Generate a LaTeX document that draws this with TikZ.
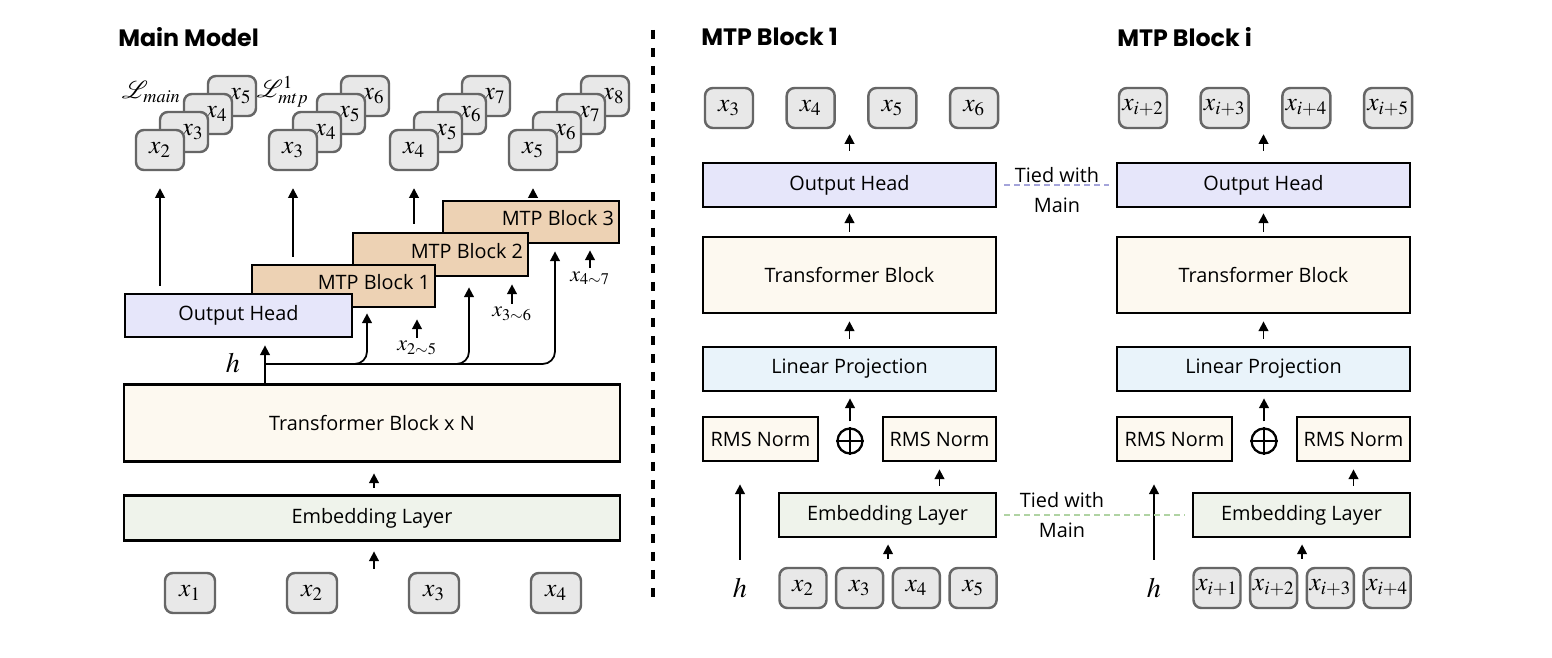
\documentclass[tikz,border=0pt]{standalone}
\usepackage{mathptmx}
\usepackage[no-math]{fontspec}
\setmainfont{Open Sans}
\newfontfamily\titlefont{Poppins}
\usetikzlibrary{arrows.meta,calc}

\definecolor{tokfill}{HTML}{E8E8E8}
\definecolor{tokline}{HTML}{666666}
\definecolor{headfill}{HTML}{E6E6FA}
\definecolor{trffill}{HTML}{FDF9F0}
\definecolor{embfill}{HTML}{EFF3EB}
\definecolor{lpfill}{HTML}{E9F3FA}
\definecolor{mtpfill}{HTML}{EDD2B4}
\definecolor{tiehead}{HTML}{A4A4DA}
\definecolor{tieemb}{HTML}{B0D3A3}

% stack of four predicted tokens: name, centre x of front token, index of front token
\newcommand\outstack[3]{%
  \foreach \k in {3,2,1}{%
    \pgfmathtruncatemacro\idx{#3+\k}%
    \node[tok, label={[font=\fontsize{14.5}{16}\selectfont, inner sep=0pt, xshift=0.17cm]center:$x_{\idx}$}]
      (#1-\k) at ({#2+24*\k},{150-18*\k}) {};
  }
  \node[tok] (#1-0) at (#2,150) {$x_{#3}$};
}

% one MTP module: name prefix, subscripts of the outputs, subscripts of the inputs
\newcommand\mtppanel[3]{%
  \foreach \s [count=\n] in {#2}
    \node[tok] (#1t\n) at ({729+81.7*(\n-1)},108) {$x_{\s}$};
  \foreach \s [count=\n] in {#3}
    \node[tok, minimum width=47*0.02cm] (#1b\n) at ({803+56.7*(\n-1)},588) {$x_{\s}$};
  \node[box, fill=headfill, sz={293}{44}] (#1head) at (849.5,185) {Output Head};
  \node[box, fill=trffill, sz={293}{76}] (#1trf) at (849.5,275) {Transformer Block};
  \node[box, fill=lpfill, sz={293}{44}] (#1lp) at (849.5,369) {Linear Projection};
  \node[box, fill=trffill, sz={115}{44}] (#1rl) at (760.5,439) {RMS Norm};
  \node[box, fill=trffill, sz={113}{44}] (#1rr) at (939.5,439) {RMS Norm};
  \node[circle, draw, line width=1.3pt, inner sep=0pt, minimum size=25*0.02cm] (#1add) at (850,441) {};
  \draw[line width=1.3pt] (#1add.north) -- (#1add.south) (#1add.west) -- (#1add.east);
  \node[box, fill=embfill, sz={217}{44}] (#1emb) at (887.5,515) {Embedding Layer};
  \node[font=\fontsize{16}{18}\selectfont, inner sep=0pt] (#1h) at (740,588) {$h$};
  \coordinate (#1bin) at ($(#1b2.north)!0.5!(#1b3.north)$);
  \draw[arr, shorten <=0.22cm, shorten >=0.1cm] (#1head.north) -- (#1head.north |- #1t2.south);
  \draw[arr, shorten <=0.08cm, shorten >=0.1cm] (#1trf.north) -- (#1head.south);
  \draw[arr, shorten <=0.14cm, shorten >=0.14cm] (#1lp.north) -- (#1trf.south);
  \draw[arr, shorten <=0.12cm, shorten >=0.12cm] (#1add.north) -- (#1lp.south -| #1add);
  \draw[arr, shorten <=0.12cm, shorten >=0.14cm] (#1emb.north -| #1rr) -- (#1rr.south);
  \draw[arr, shorten <=0.16cm, shorten >=0.12cm] (#1bin) -- (#1bin |- #1emb.south);
  \draw[arr, shorten <=0.36cm, shorten >=0.44cm] (#1h.north) -- (#1h.north |- #1rl.south);
}

\begin{document}
\begin{tikzpicture}[x=0.02cm, y=-0.02cm,
  box/.style={draw=black, line width=1.6pt, inner sep=0pt, font=\fontsize{11.3}{13}\selectfont},
  boxtext/.style={inner sep=0pt, anchor=east, font=\fontsize{11.3}{13}\selectfont},
  sz/.style 2 args={minimum width=#1*0.02cm, minimum height=#2*0.02cm},
  tok/.style={draw=tokline, fill=tokfill, line width=1.4pt, rounded corners=4.5pt,
    inner xsep=1.5pt, inner ysep=0pt, minimum width=48*0.02cm, minimum height=40*0.02cm,
    font=\fontsize{14.5}{16}\selectfont},
  arr/.style={line width=1pt, -{Triangle[length=5.5pt,width=5.5pt]}},
  title/.style={anchor=west, inner sep=0pt, font=\titlefont\bfseries\fontsize{13.5}{16}\selectfont},
  small/.style={inner sep=0pt, font=\fontsize{12.5}{14}\selectfont},
  tie/.style={align=center, inner sep=0pt, font=\fontsize{11.3}{17.5}\selectfont},
  tieline/.style={line width=1.7pt, dash pattern=on 0.12cm off 0.08cm, shorten <=0.14cm, shorten >=0.14cm}
]
\fill[white] (0,0) rectangle (1552,658);
\useasboundingbox (0,0) rectangle (1552,658);

% ---------------- main model ----------------
\node[title] (tmain) at (118,37) {Main Model};

\foreach \i/\xx in {1/190,2/312,3/434,4/556}
  \node[tok, minimum width=50*0.02cm] (in\i) at (\xx,593) {$x_{\i}$};

\node[box, fill=embfill, sz={496}{45}] (memb) at (372,518) {Embedding Layer};
\node[box, fill=trffill, sz={496}{77}] (mtrf) at (372,423) {Transformer Block x N};

\coordinate (mtin) at (374,573);
\draw[arr, shorten <=0.09cm, shorten >=0.19cm] (mtin) -- (mtin |- memb.south);
\draw[arr, shorten <=0.13cm, shorten >=0.21cm] (memb.north -| mtin) -- (mtrf.south -| mtin);

% staggered MTP modules behind the output head
\node[box, fill=mtpfill, sz={176}{42}] (mtp3) at (531,222) {};
\node[boxtext] (mtp3t) at ([xshift=-0.12cm, yshift=0.07cm]mtp3.east) {MTP Block 3};
\node[box, fill=mtpfill, sz={175}{43}] (mtp2) at (440.5,254.5) {};
\node[boxtext] (mtp2t) at ([xshift=-0.12cm, yshift=0.07cm]mtp2.east) {MTP Block 2};
\node[box, fill=mtpfill, sz={183}{42}] (mtp1) at (343.5,286) {};
\node[boxtext] (mtp1t) at ([xshift=-0.12cm, yshift=0.07cm]mtp1.east) {MTP Block 1};
\node[box, fill=headfill, sz={227}{43}] (mhead) at (238.5,315.5) {Output Head};

% hidden state h and its branches
\coordinate (hs) at (265,364);
\coordinate (b1) at (367,364);
\coordinate (b2) at (469,364);
\coordinate (b3) at (555,364);
\node[font=\fontsize{16}{18}\selectfont, inner sep=0pt] (hmain) at (233,363) {$h$};
\draw[arr, shorten >=0.14cm] (mtrf.north -| hs) -- (mhead.south -| hs);
\draw[arr, rounded corners=7pt, shorten >=0.1cm] (hs) -| (b1 |- mtp1.south);
\draw[arr, rounded corners=7pt, shorten >=0.2cm] (hs) -| (b2 |- mtp2.south);
\draw[arr, rounded corners=7pt, shorten >=0.14cm] (hs) -| (b3 |- mtp3.south);

% shifted token inputs of the MTP modules
\node[small] (in25) at (417,348) {$x_{2\sim5}$};
\node[small] (in36) at (512,314) {$x_{3\sim6}$};
\node[small] (in47) at (590,278) {$x_{4\sim7}$};
\draw[arr, shorten <=0.06cm, shorten >=0.22cm] (in25.north) -- (in25.north |- mtp1.south);
\draw[arr, shorten <=0.06cm, shorten >=0.14cm] (in36.north) -- (in36.north |- mtp2.south);
\draw[arr, shorten <=0.06cm, shorten >=0.12cm] (in47.north) -- (in47.north |- mtp3.south);

% predicted tokens
\outstack{sa}{160}{2}
\outstack{sb}{293}{3}
\outstack{sc}{414}{4}
\outstack{sd}{533}{5}
\node[anchor=east, inner sep=0pt, font=\fontsize{14}{16}\selectfont] (lmain) at (181,92) {$\mathcal{L}_{main}$};
\node[anchor=east, inner sep=0pt, font=\fontsize{14}{16}\selectfont] (lmtp) at (309,92) {$\mathcal{L}_{mtp}^{1}$};

\draw[arr, shorten <=0.14cm, shorten >=0.34cm] (mhead.north -| sa-0) -- (sa-0.south);
\draw[arr, shorten <=0.14cm, shorten >=0.34cm] (mtp1.north -| sb-0) -- (sb-0.south);
\draw[arr, shorten <=0.16cm, shorten >=0.34cm] (mtp2.north -| sc-0) -- (sc-0.south);
\draw[arr, shorten <=0.16cm, shorten >=0.34cm] (mtp3.north -| sd-0) -- (sd-0.south);

% ---------------- divider ----------------
\coordinate (dtop) at (653,30);
\coordinate (dbot) at (653,600);
\draw[line width=2.4pt, dash pattern=on 0.18cm off 0.18cm] (dtop) -- (dbot);

% ---------------- MTP modules ----------------
\node[title] (tmtp1) at (701,37) {MTP Block 1};
\node[title] (tmtpi) at (1117,37) {MTP Block i};

\mtppanel{pa}{3,4,5,6}{2,3,4,5}
\begin{scope}[xshift=414*0.02cm]
  \mtppanel{pb}{i+2,i+3,i+4,i+5}{i+1,i+2,i+3,i+4}
\end{scope}

% shared weights
\draw[tiehead, tieline] (pahead.east) -- (pbhead.west);
\node[tie] (tie1) at (1057,190) {Tied with\\Main};
\draw[tieemb, tieline] (paemb.east) -- (pbemb.west);
\node[tie] (tie2) at (1062,515) {Tied with\\Main};
\end{tikzpicture}
\end{document}
